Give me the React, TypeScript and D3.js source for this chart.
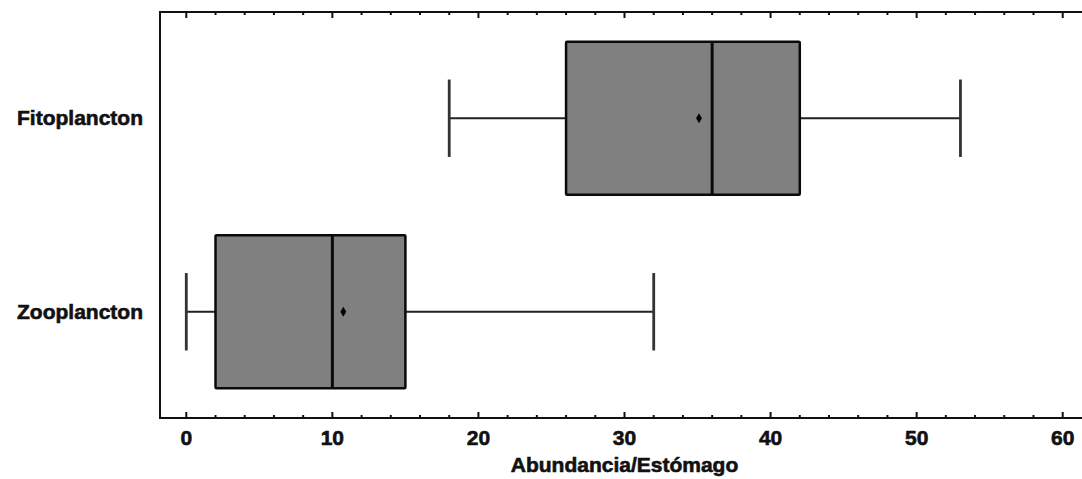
import * as d3 from "d3";
import React, { useEffect, useRef } from "react";

const categories = ["Fitoplancton", "Zooplancton"];
const mins = [18, 0];
const q1s = [26, 2];
const medians = [36, 10];
const q3s = [42, 15];
const maxs = [53, 32];
const means = [35.1, 10.75];
const majorTicks = [0, 10, 20, 30, 40, 50, 60];
const xTitle = "Abundancia/Estómago";

const App = () => {
  const width = 1082;
  const height = 479;
  const margin = { left: 160, top: 12, right: -7, bottom: 61 };
  const ref = useRef<SVGSVGElement>(null);

  useEffect(() => {
    const svg = d3.select(ref.current);
    svg.selectAll("*").remove();
    const font = "'Liberation Sans', Arial, sans-serif";

    const x = d3
      .scaleLinear()
      .domain([-1.8, 61.8])
      .range([margin.left, width - margin.right]);

    const y = d3
      .scalePoint()
      .domain(categories)
      .range([margin.top, height - margin.bottom])
      .padding(0.549);

    const boxH = 0.79 * y.step();
    const capH = 0.2 * y.step();
    const bottom = height - margin.bottom;

    // frame: left, top, bottom (right side is outside the picture)
    svg
      .append("path")
      .attr(
        "d",
        `M${width + 10},${margin.top}H${margin.left}V${bottom}H${width + 10}`
      )
      .attr("fill", "none")
      .attr("stroke", "#111")
      .attr("stroke-width", 2);

    // ticks pointing inward
    const minor = d3.range(0, 62, 2).filter((v) => v % 10 !== 0);
    const tickG = svg.append("g").attr("stroke", "#111").attr("stroke-width", 2);
    majorTicks.forEach((v) => {
      tickG.append("line").attr("x1", x(v)).attr("x2", x(v)).attr("y1", bottom).attr("y2", bottom - 6);
      tickG.append("line").attr("x1", x(v)).attr("x2", x(v)).attr("y1", margin.top).attr("y2", margin.top + 6);
    });
    minor.forEach((v) => {
      tickG.append("line").attr("x1", x(v)).attr("x2", x(v)).attr("y1", bottom).attr("y2", bottom - 3);
      tickG.append("line").attr("x1", x(v)).attr("x2", x(v)).attr("y1", margin.top).attr("y2", margin.top + 3);
    });

    const boldText = (sel) =>
      sel
        .attr("font-family", font)
        .attr("font-weight", "bold")
        .attr("font-size", 21)
        .attr("fill", "#111")
        .attr("stroke", "#111")
        .attr("stroke-width", 0.6);

    svg
      .append("g")
      .selectAll("text")
      .data(majorTicks)
      .join("text")
      .attr("x", (d) => x(d))
      .attr("y", 445)
      .attr("text-anchor", "middle")
      .call(boldText)
      .text((d) => d);

    svg
      .append("text")
      .attr("x", x(30))
      .attr("y", 472)
      .attr("text-anchor", "middle")
      .call(boldText)
      .text(xTitle);

    svg
      .append("g")
      .selectAll("text")
      .data(categories)
      .join("text")
      .attr("x", 143)
      .attr("y", (d) => (y(d) as number) + 7)
      .attr("text-anchor", "end")
      .call(boldText)
      .text((d) => d);

    categories.forEach((c, i) => {
      const cy = y(c) as number;
      const g = svg.append("g");
      // whiskers
      g.append("line")
        .attr("x1", x(mins[i])).attr("x2", x(q1s[i]))
        .attr("y1", cy).attr("y2", cy)
        .attr("stroke", "#222").attr("stroke-width", 2);
      g.append("line")
        .attr("x1", x(q3s[i])).attr("x2", x(maxs[i]))
        .attr("y1", cy).attr("y2", cy)
        .attr("stroke", "#222").attr("stroke-width", 2);
      [mins[i], maxs[i]].forEach((v) =>
        g.append("line")
          .attr("x1", x(v)).attr("x2", x(v))
          .attr("y1", cy - capH).attr("y2", cy + capH)
          .attr("stroke", "#333").attr("stroke-width", 2.8)
      );
      // box
      g.append("rect")
        .attr("x", x(q1s[i]))
        .attr("y", cy - boxH / 2)
        .attr("width", x(q3s[i]) - x(q1s[i]))
        .attr("height", boxH)
        .attr("fill", "#808080")
        .attr("stroke", "#0a0a0a")
        .attr("stroke-width", 2.5)
        .attr("rx", 1);
      g.append("line")
        .attr("x1", x(medians[i])).attr("x2", x(medians[i]))
        .attr("y1", cy - boxH / 2).attr("y2", cy + boxH / 2)
        .attr("stroke", "#0a0a0a").attr("stroke-width", 3);
      g.append("path")
        .attr("d", d3.symbol(d3.symbolDiamond, 30)())
        .attr("transform", `translate(${x(means[i])},${cy})`)
        .attr("fill", "#000");
    });
  }, []);

  return (
    <svg
      ref={ref}
      width={width}
      height={height}
      style={{ position: "absolute", left: 0, top: 0, background: "#fff" }}
    ></svg>
  );
};

export default App;
